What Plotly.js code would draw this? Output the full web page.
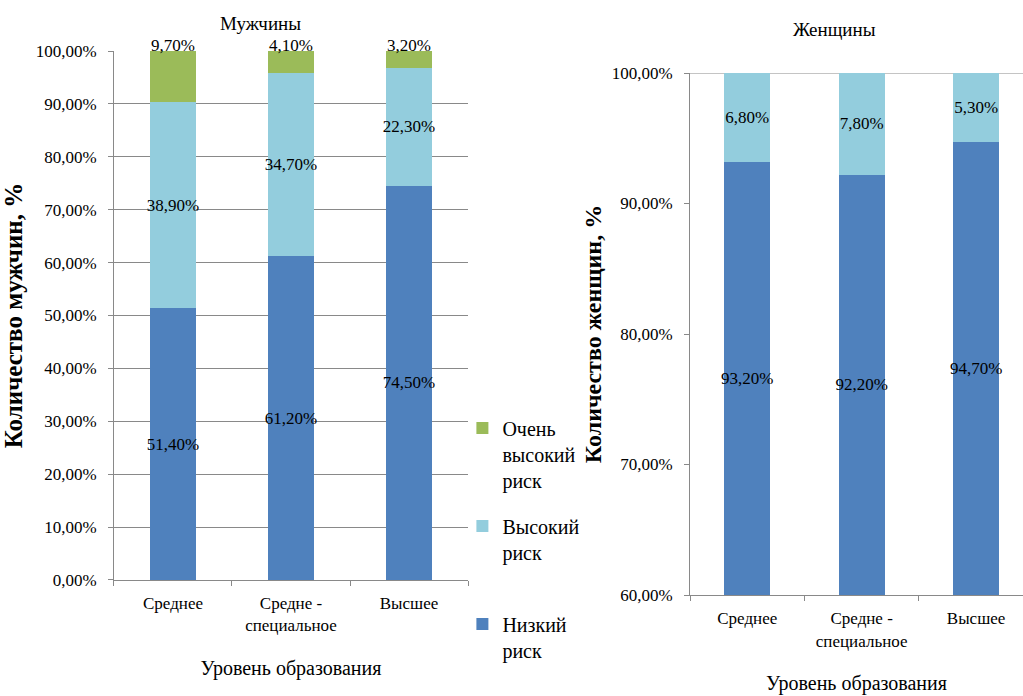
<!DOCTYPE html>
<html>
<head>
<meta charset="utf-8">
<script src="https://cdn.plot.ly/plotly-3.0.1.min.js"></script>
<style>
  html, body { margin: 0; padding: 0; background: #fff; }
  #chart { width: 1023px; height: 696px; }
</style>
</head>
<body>
<div id="chart"></div>
<script>
const categories = ['Среднее', 'Средне -<br>специальное', 'Высшее'];
const menLow = [51.4, 61.2, 74.5];
const menHigh = [38.9, 34.7, 22.3];
const menVeryHigh = [9.7, 4.1, 3.2];
const womenLow = [93.2, 92.2, 94.7];
const womenHigh = [6.8, 7.8, 5.3];
const menTicks = [0, 10, 20, 30, 40, 50, 60, 70, 80, 90, 100];
const womenTicks = [60, 70, 80, 90, 100];
const seriesNames = ['Низкий<br>риск', 'Высокий<br>риск<br> ', 'Очень<br>высокий<br>риск'];

const C_LOW = '#4F81BD', C_HIGH = '#93CDDD', C_VHIGH = '#9BBB59';
const GRID = '#898989';
const FONT = 'Liberation Serif';
const fmt = v => v.toFixed(2).replace('.', ',') + '%';
const labelFont = {family: FONT, size: 17, color: '#000'};

function barTrace(y, name, color, group, rank, axes, extra) {
  return Object.assign({
    type: 'bar', x: categories, y: y, name: name,
    marker: {color: color, line: {width: 0}},
    legendgroup: group, legendrank: rank,
    xaxis: axes[0], yaxis: axes[1],
    text: y.map(fmt), textposition: 'inside', insidetextanchor: 'middle',
    textangle: 0, constraintext: 'none',
    textfont: labelFont, insidetextfont: labelFont, outsidetextfont: labelFont,
    width: 0.39, hoverinfo: 'skip'
  }, extra || {});
}

const traces = [
  barTrace(menLow, seriesNames[0], C_LOW, 'low', 3, ['x', 'y']),
  barTrace(menHigh, seriesNames[1], C_HIGH, 'high', 2, ['x', 'y']),
  barTrace(menVeryHigh, seriesNames[2], C_VHIGH, 'vhigh', 1, ['x', 'y'],
           {textposition: 'none'}),
  barTrace(womenLow.map(v => v - womenTicks[0]), seriesNames[0], C_LOW, 'low', 3, ['x2', 'y2'],
           {base: womenTicks[0], text: womenLow.map(fmt), showlegend: false, width: 0.4}),
  barTrace(womenHigh, seriesNames[1], C_HIGH, 'high', 2, ['x2', 'y2'],
           {base: womenLow, showlegend: false, width: 0.4})
];

// labels of the top segment, placed at the top of each stack
const topLabels = categories.map((c, i) => ({
  x: c, y: menLow[i] + menHigh[i] + menVeryHigh[i], xref: 'x', yref: 'y',
  text: fmt(menVeryHigh[i]), showarrow: false, xanchor: 'center', yanchor: 'middle',
  yshift: 6, font: labelFont
}));

const xCommon = {
  type: 'category', tickson: 'boundaries', ticks: 'outside', ticklen: 5,
  tickcolor: GRID, showline: true, linecolor: GRID, linewidth: 1,
  showgrid: false, zeroline: false, tickfont: {family: FONT, size: 17, color: '#000'},
  ticklabelstandoff: 8, fixedrange: true
};
const yCommon = {
  ticks: 'outside', ticklen: 5,
  tickcolor: GRID, showline: true, linecolor: GRID, linewidth: 1,
  zeroline: false, tickfont: {family: FONT, size: 17, color: '#000'},
  ticklabelstandoff: 8, fixedrange: true
};

const layout = {
  width: 1023, height: 696,
  margin: {l: 0, r: 0, t: 0, b: 0},
  paper_bgcolor: '#fff', plot_bgcolor: '#fff',
  font: {family: FONT, size: 18, color: '#000'},
  barmode: 'stack',
  showlegend: true,
  legend: {
    x: 0.452, xanchor: 'left', y: 0.413, yanchor: 'top',
    font: {family: FONT, size: 20, color: '#000'},
    valign: 'top', traceorder: 'grouped', tracegroupgap: 17,
    bgcolor: 'rgba(0,0,0,0)'
  },
  xaxis: Object.assign({}, xCommon, {
    domain: [0.1114, 0.4575], anchor: 'y', range: [-0.5, 2.5],
    title: {text: 'Уровень образования', font: {family: FONT, size: 20}, standoff: 26}
  }),
  yaxis: Object.assign({}, yCommon, {
    domain: [0.1667, 0.9267], anchor: 'x', range: [0, 100],
    tickvals: menTicks, ticktext: menTicks.map(fmt),
    showgrid: true, gridcolor: GRID, gridwidth: 1,
    title: {text: '<b>Количество мужчин, %</b>', font: {family: FONT, size: 25}, standoff: 6}
  }),
  xaxis2: Object.assign({}, xCommon, {
    domain: [0.6745, 1], anchor: 'y2', range: [-0.5, 2.41],
    title: {text: 'Уровень образования', font: {family: FONT, size: 20}, standoff: 26}
  }),
  yaxis2: Object.assign({}, yCommon, {
    domain: [0.1451, 0.8951], anchor: 'x2', range: [60, 100],
    tickvals: womenTicks, ticktext: womenTicks.map(fmt),
    showgrid: false,
    title: {text: '<b>Количество женщин, %</b>', font: {family: FONT, size: 24}, standoff: 3}
  }),
  shapes: [{
    type: 'line', xref: 'x2 domain', x0: 0, x1: 1, yref: 'y2', y0: 100, y1: 100,
    line: {color: GRID, width: 1}, layer: 'below'
  }],
  annotations: [
    {text: 'Мужчины', x: 0.2542, y: 0.966, xref: 'paper', yref: 'paper',
     xanchor: 'center', yanchor: 'middle', showarrow: false, font: {family: FONT, size: 19}},
    {text: 'Женщины', x: 0.8162, y: 0.9569, xref: 'paper', yref: 'paper',
     xanchor: 'center', yanchor: 'middle', showarrow: false, font: {family: FONT, size: 19}}
  ].concat(topLabels)
};

Plotly.newPlot('chart', traces, layout, {displayModeBar: false, staticPlot: true});
</script>
</body>
</html>
